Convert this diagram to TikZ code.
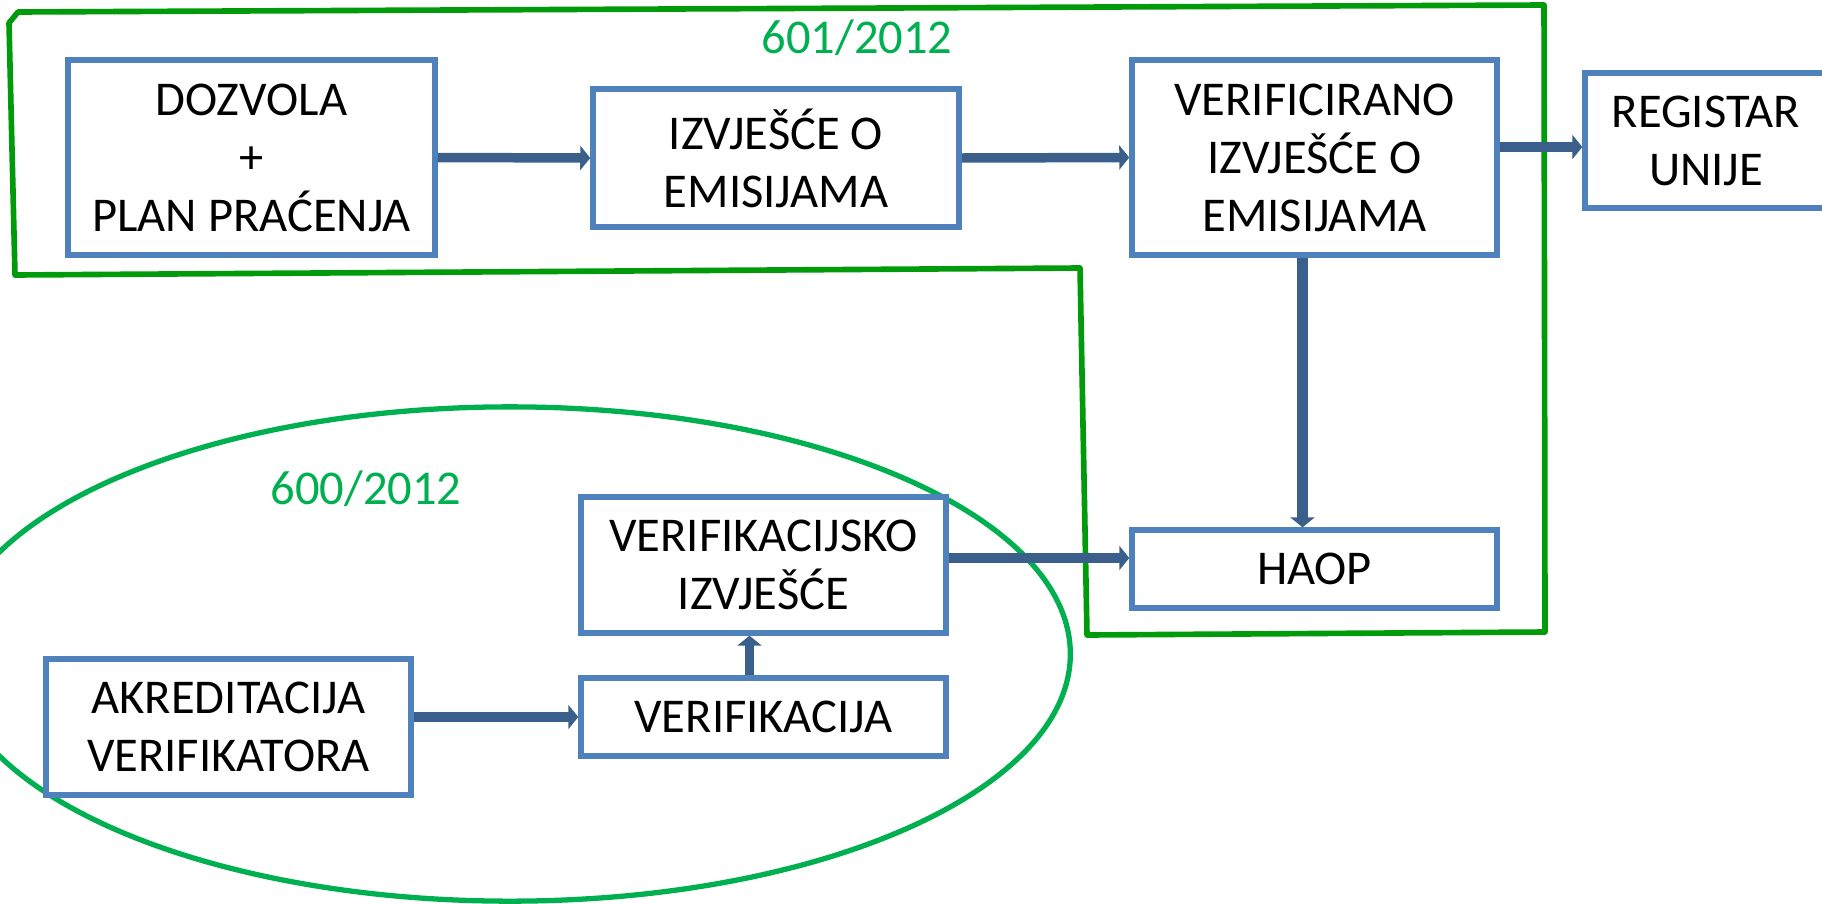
\documentclass[tikz,border=0pt]{standalone}
\usepackage{fontspec}
\setmainfont{Carlito}
\usetikzlibrary{arrows.meta}
\definecolor{boxblue}{HTML}{4F81BD}
\definecolor{arrowblue}{HTML}{3A5F8B}
\definecolor{framegreen}{HTML}{009A0A}
\definecolor{ovalgreen}{HTML}{00B050}

\begin{document}
\begin{tikzpicture}[x=0.01cm,y=-0.01cm,
    blok/.style={draw=boxblue,line width=1.5pt,fill=white,align=center,inner sep=0pt,
      font=\fontsize{13.8}{16.5}\selectfont},
    strelica/.style={draw=arrowblue,line width=2.7pt,-{Triangle[length=0.1cm,width=0.24cm]}},
    oznaka/.style={text=ovalgreen,font=\fontsize{13.8}{16}\selectfont}]
  \useasboundingbox (0,0) rectangle (1822,903);

  % okvir 601/2012
  \draw[framegreen,line width=1.6pt,line join=round]
    (18,12) -- (1544,5) -- (1545,632) -- (1087,635) -- (1080,268) -- (15,275) -- (9,23) -- cycle;
  % elipsa 600/2012
  \draw[ovalgreen,line width=1.5pt] (510,654) ellipse [x radius=5.6cm,y radius=2.47cm];

  \node[oznaka] (l601) at (857,38) {601/2012};
  \node[oznaka] (l600) at (366,489) {600/2012};

  % gornji red
  \node[blok,minimum width=3.67cm,minimum height=1.95cm] (dozvola) at (251.5,157.5) {DOZVOLA\\+\\PLAN PRAĆENJA};
  \node[blok,minimum width=3.66cm,minimum height=1.38cm] (izvjesce) at (776,158) {IZVJEŠĆE O\\EMISIJAMA};
  \node[blok,minimum width=3.65cm,minimum height=1.95cm] (verificirano) at (1314.5,157.5) {VERIFICIRANO\\IZVJEŠĆE O\\EMISIJAMA};
  \node[blok,minimum width=2.42cm,minimum height=1.35cm] (registar) at (1706,140.5) {REGISTAR\\UNIJE};

  % donji dio
  \node[blok,minimum width=3.65cm,minimum height=0.78cm] (haop) at (1314.5,569) {HAOP};
  \node[blok,minimum width=3.65cm,minimum height=1.36cm] (verizv) at (763.5,565) {VERIFIKACIJSKO\\IZVJEŠĆE};
  \node[blok,minimum width=3.65cm,minimum height=0.78cm] (verifikacija) at (763.5,717) {VERIFIKACIJA};
  \node[blok,minimum width=3.65cm,minimum height=1.36cm] (akreditacija) at (228.5,727) {AKREDITACIJA\\VERIFIKATORA};

  % strelice
  \draw[strelica] (dozvola.east) -- (izvjesce.west);
  \draw[strelica] (izvjesce.east) -- (verificirano.west);
  \draw[strelica] ([yshift=-0.065cm]registar.west -| verificirano.east) -- ([yshift=-0.065cm]registar.west);
  \draw[strelica,line width=3.3pt] ([xshift=-0.12cm]verificirano.south) -- ([xshift=-0.12cm]haop.north);
  \draw[strelica] ([yshift=0.07cm]verizv.east) -- ([yshift=0.07cm]verizv.east -| haop.west);
  \draw[strelica] (verifikacija.west -| akreditacija.east) -- (verifikacija.west);
  \draw[strelica] ([xshift=-0.14cm]verifikacija.north) -- ([xshift=-0.14cm]verizv.south);
\end{tikzpicture}
\end{document}
